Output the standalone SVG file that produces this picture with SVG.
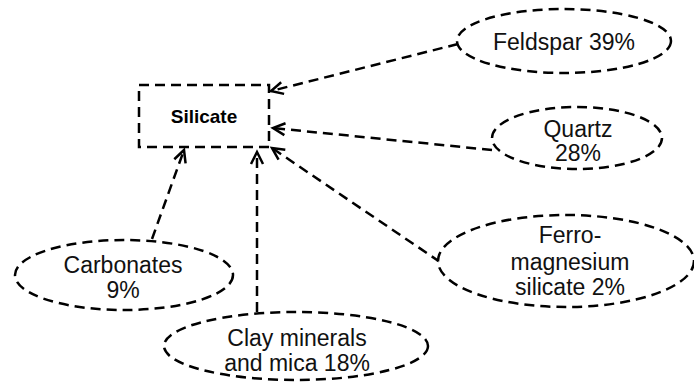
<svg xmlns="http://www.w3.org/2000/svg" width="694" height="392" viewBox="0 0 694 392">
<style>
.shape{fill:#fff;stroke:#000;stroke-width:2.5;stroke-dasharray:10 6}
.conn{fill:none;stroke:#000;stroke-width:2.5;stroke-dasharray:10 6}
.lbl{font-family:"Liberation Sans",Arial,sans-serif;font-size:23px;fill:#111;text-anchor:middle}
.bold{font-family:"Liberation Sans",Arial,sans-serif;font-size:19px;font-weight:bold;fill:#000;text-anchor:middle}
</style>
<defs>
<marker id="arr" markerUnits="userSpaceOnUse" markerWidth="16" markerHeight="16" refX="13" refY="7" orient="auto" viewBox="0 0 16 14">
<path d="M1 1 L13 7 L1 13" fill="none" stroke="#000" stroke-width="2.5"/>
</marker>
</defs>
<rect width="694" height="392" fill="#fff"/>
<g id="connectors">
<path class="conn" d="M458 44 L271 91" marker-end="url(#arr)"/>
<path class="conn" d="M492 150 L273 128" marker-end="url(#arr)"/>
<path class="conn" d="M440 262 L272 148" marker-end="url(#arr)"/>
<path class="conn" d="M257 312 L257 152" marker-end="url(#arr)"/>
<path class="conn" d="M152 239 L184 150" marker-end="url(#arr)"/>
</g>
<g id="silicate">
<rect class="shape" x="139" y="85" width="130" height="62"/>
<text class="bold" x="204" y="123">Silicate</text>
</g>
<g id="feldspar">
<ellipse class="shape" cx="564" cy="41" rx="107" ry="32"/>
<text class="lbl" x="564" y="50">Feldspar 39%</text>
</g>
<g id="quartz">
<ellipse class="shape" cx="577" cy="138" rx="85" ry="31"/>
<text class="lbl" x="578" y="137">Quartz</text>
<text class="lbl" x="578" y="161">28%</text>
</g>
<g id="ferro">
<ellipse class="shape" cx="566" cy="261" rx="128" ry="46"/>
<text class="lbl" x="570" y="243">Ferro-</text>
<text class="lbl" x="570" y="270">magnesium</text>
<text class="lbl" x="570" y="295">silicate 2%</text>
</g>
<g id="carbonates">
<ellipse class="shape" cx="124" cy="275" rx="109" ry="35"/>
<text class="lbl" x="123" y="273">Carbonates</text>
<text class="lbl" x="123" y="298">9%</text>
</g>
<g id="clay">
<ellipse class="shape" cx="296" cy="346" rx="132" ry="34"/>
<text class="lbl" x="297" y="346">Clay minerals</text>
<text class="lbl" x="297" y="371">and mica 18%</text>
</g>
</svg>
